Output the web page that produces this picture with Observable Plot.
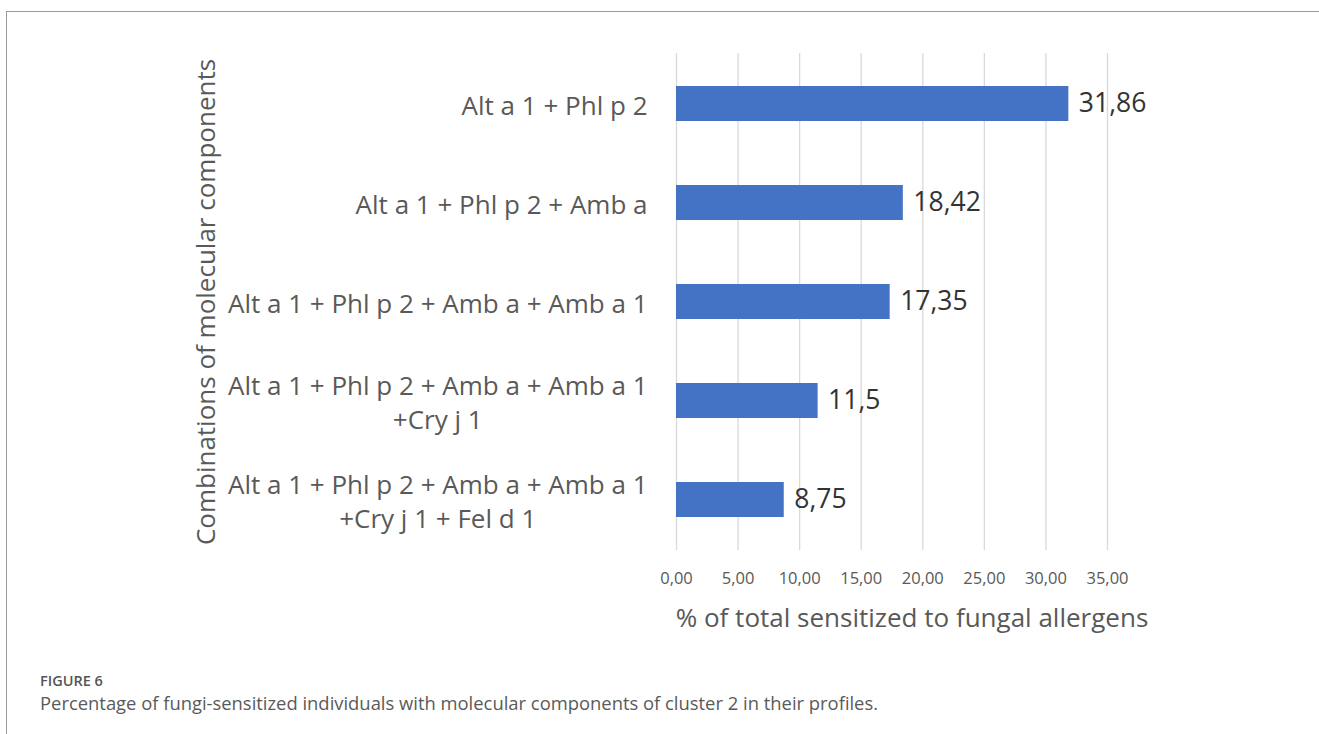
<!DOCTYPE html>
<html>
<head>
<meta charset="utf-8">
<script src="https://cdn.jsdelivr.net/npm/d3@7"></script>
<script src="https://cdn.jsdelivr.net/npm/@observablehq/plot@0.6"></script>
<style>
  html, body { margin: 0; padding: 0; background: #fff; }
  #wrap { position: relative; width: 1319px; height: 734px; overflow: hidden; font-family: "Open Sans", sans-serif; }
  #frame { position: absolute; left: 6px; top: 11px; width: 1400px; height: 800px; border-top: 1.5px solid #9a9a9a; border-left: 1.5px solid #9a9a9a; }
  #chart { position: absolute; left: 0; top: 0; }
  #fig { position: absolute; left: 40px; top: 671px; font-size: 14.5px; font-weight: 600; color: #555; }
  #cap { position: absolute; left: 40px; top: 690px; font-size: 18.4px; color: #5a5a5a; }
</style>
</head>
<body>
<div id="wrap">
  <div id="frame"></div>
  <div id="chart"></div>
  <div id="fig">FIGURE 6</div>
  <div id="cap">Percentage of fungi-sensitized individuals with molecular components of cluster 2 in their profiles.</div>
</div>
<script>
const categories = [
  "Alt a 1 + Phl p 2",
  "Alt a 1 + Phl p 2 + Amb a",
  "Alt a 1 + Phl p 2 + Amb a + Amb a 1",
  "Alt a 1 + Phl p 2 + Amb a + Amb a 1\n+Cry j 1",
  "Alt a 1 + Phl p 2 + Amb a + Amb a 1\n+Cry j 1 + Fel d 1"
];
const values = [31.86, 18.42, 17.35, 11.5, 8.75];
const xTicks = [0, 5, 10, 15, 20, 25, 30, 35];
const xTitle = "% of total sensitized to fungal allergens";
const yTitle = "Combinations of molecular components";

const data = categories.map((c, i) => ({cat: c, value: values[i]}));
const comma = v => String(v).replace(".", ",");

const labelSize = 26;
const ctx = document.createElement("canvas").getContext("2d");
ctx.font = labelSize + "px 'Open Sans'";
const blockWidth = c => Math.max(...c.split("\n").map(s => ctx.measureText(s).width));

const labelMarks = categories.map(c => Plot.text([c], {
  x: () => 0, y: d => d, text: d => d,
  textAnchor: "middle", dx: -(29 + blockWidth(c) / 2),
  fontSize: labelSize, fill: "#595959", lineHeight: 1.3
}));

const chart = Plot.plot({
  width: 1319,
  height: 650,
  marginLeft: 676,
  marginRight: 212,
  marginTop: 53,
  marginBottom: 100,
  style: {fontFamily: "'Open Sans', sans-serif", background: "transparent"},
  x: {domain: [0, 35]},
  y: {domain: categories, paddingInner: 0.65, paddingOuter: 0.325},
  marks: [
    Plot.gridX(xTicks, {stroke: "#d9d9d9", strokeOpacity: 1, strokeWidth: 1.3}),
    Plot.barX(data, {x: "value", y: "cat", fill: "#4472c4"}),
    Plot.text(data, {x: "value", y: "cat", text: d => comma(d.value), textAnchor: "start", dx: 10, fontSize: 26.5, fill: "#333"}),
    Plot.axisX(xTicks, {tickSize: 0, tickPadding: 22, fontSize: 16.5, color: "#595959", label: null,
      tickFormat: d => d3.format(".2f")(d).replace(".", ",")}),
    Plot.axisY({ticks: [], tickSize: 0, label: yTitle, labelAnchor: "center", labelOffset: 480, fontSize: 26, color: "#595959", labelArrow: "none"}),
    ...labelMarks,
    Plot.text([xTitle], {frameAnchor: "bottom", dx: 20, dy: 76, fontSize: 26, fill: "#595959"})
  ]
});
document.getElementById("chart").appendChild(chart);
</script>
</body>
</html>
